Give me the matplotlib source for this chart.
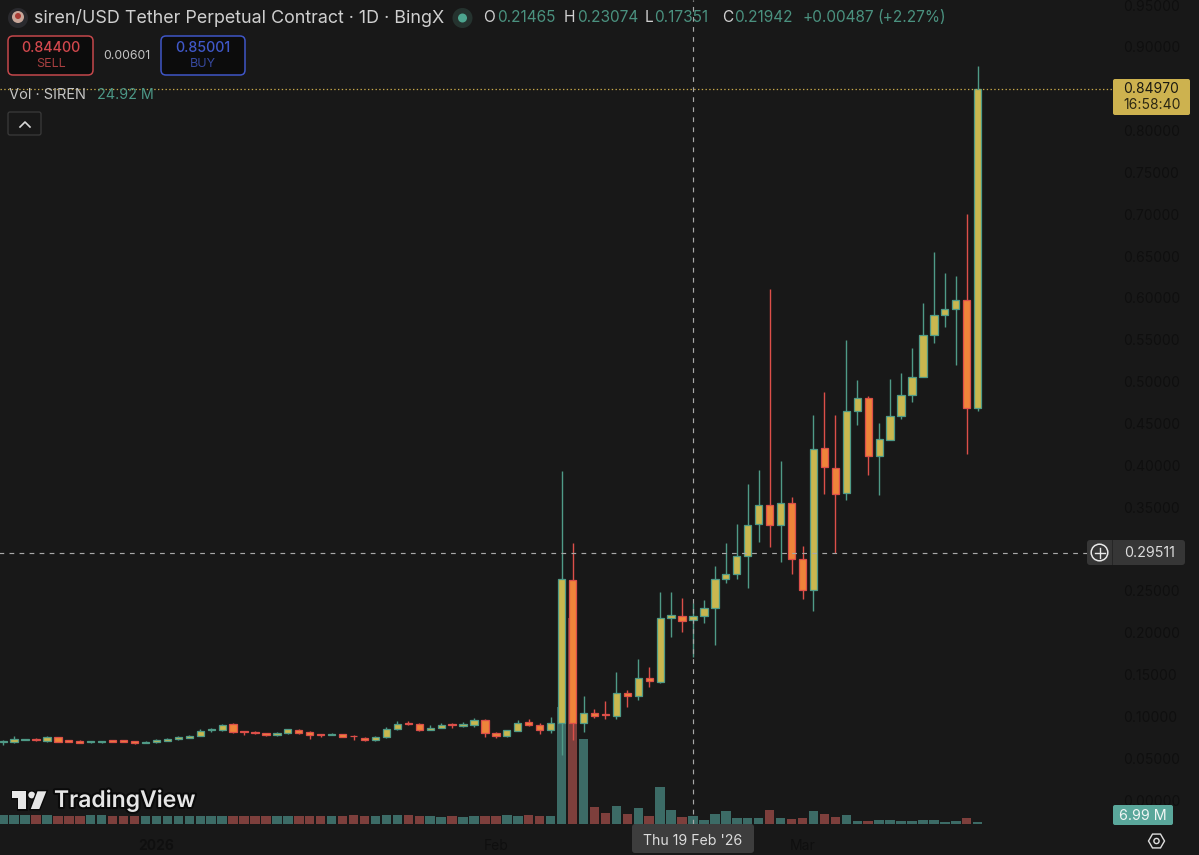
import matplotlib
matplotlib.use('Agg')
import matplotlib.pyplot as plt
import matplotlib.patheffects as pe
from matplotlib.patches import FancyBboxPatch, Rectangle, Circle, Polygon
import numpy as np

W, H = 1199, 855
BG = '#181818'

# daily candles, 0 = first visible day, 63 = Thu 19 Feb
opens = [.0693, .0689, .0721, .0733, .0705, .0749, .0713, .0705, .0689, .0689,
         .0713, .0713, .0701, .0685, .0689, .0709, .0729, .0745, .0769, .0833,
         .0837, .0904, .0821, .0817, .0801, .0777, .0797, .0840, .0817, .0789,
         .0781, .0785, .0769, .0745, .0717, .0749, .0844, .0920, .0912, .0840,
         .0864, .0908, .0884, .0900, .0960, .0801, .0769, .0829, .0928, .0896,
         .0837, .0916, .2629, .0924, .1036, .1024, .1004, .1275, .1243, .1454,
         .1414, .2175, .2203, .2147, .2195, .2291, .2641, .2701, .2920, .3294,
         .3525, .3286, .3545, .2884, .2510, .4203, .3971, .3673, .4649, .4804,
         .4111, .4302, .4593, .4840, .5059, .5561, .5792, .5868, .5979, .4685]
highs = [.0717, .0765, .0733, .0737, .0769, .0753, .0717, .0713, .0705, .0709,
         .0717, .0717, .0709, .0705, .0725, .0741, .0765, .0777, .0844, .0860,
         .0908, .0916, .0829, .0821, .0805, .0809, .0852, .0848, .0821, .0793,
         .0797, .0789, .0773, .0753, .0765, .0876, .0940, .0944, .0916, .0892,
         .0920, .0920, .0936, .0984, .0968, .0813, .0840, .0956, .0972, .0920,
         .0988, .3936, .3075, .1243, .1091, .1187, .1526, .1315, .1689, .1593,
         .2490, .2490, .2410, .2350, .2390, .2800, .3067, .3298, .3776, .3944,
         .6103, .4055, .3625, .3035, .4601, .4876, .4601, .5497, .5019, .4828,
         .4509, .5035, .5107, .5405, .5943, .6545, .6302, .6266, .7003, .8772]
lows = [.0657, .0677, .0717, .0705, .0697, .0689, .0689, .0677, .0681, .0681,
        .0689, .0689, .0669, .0677, .0681, .0701, .0717, .0737, .0761, .0809,
        .0829, .0805, .0781, .0793, .0769, .0769, .0789, .0789, .0733, .0749,
        .0777, .0749, .0713, .0705, .0709, .0741, .0833, .0896, .0829, .0833,
        .0856, .0864, .0876, .0876, .0749, .0745, .0753, .0821, .0888, .0793,
        .0797, .0538, .0717, .0809, .0976, .0964, .0972, .1107, .1195, .1354,
        .1402, .1952, .2004, .1713, .2119, .1848, .2589, .2637, .2537, .3087,
        .3027, .2848, .2701, .2406, .2259, .3657, .2951, .3585, .4477, .3880,
        .3645, .4302, .4549, .4760, .5059, .5457, .5653, .5202, .4135, .4653]
closes = [.0705, .0729, .0729, .0717, .0749, .0697, .0697, .0685, .0701, .0705,
          .0697, .0697, .0677, .0697, .0713, .0733, .0753, .0765, .0821, .0844,
          .0900, .0813, .0809, .0805, .0777, .0801, .0844, .0801, .0777, .0777,
          .0793, .0757, .0761, .0713, .0753, .0844, .0912, .0908, .0837, .0864,
          .0900, .0896, .0908, .0960, .0797, .0769, .0833, .0924, .0892, .0837,
          .0916, .2637, .0924, .1036, .1004, .1012, .1275, .1243, .1454, .1418,
          .2175, .2211, .2143, .2195, .2291, .2641, .2705, .2920, .3286, .3525,
          .3286, .3545, .2884, .2510, .4198, .3975, .3661, .4653, .4800, .4111,
          .4310, .4593, .4844, .5059, .5561, .5792, .5864, .5979, .4685, .8497]
# volume in millions
volumes = [27, 27, 27, 27, 27, 26, 26, 26, 27, 27,
           26, 26, 26, 26, 26, 26, 26, 26, 26, 26,
           26, 26, 26, 26, 26, 26, 26, 26, 25, 25,
           25, 25, 27, 26, 26, 27, 27, 27, 24, 25,
           23, 24, 23, 24, 24, 25, 27, 25, 28, 25,
           25, 363, 639, 264, 52, 33, 57, 30, 51, 24,
           114, 43, 23, 24.92, 13, 32, 39, 20, 20, 20,
           43, 18, 15, 18, 41, 32, 22, 27, 10, 10,
           11, 11, 9, 9, 11, 11, 7, 9, 18, 6.99]

price_ticks = [.95, .90, .85, .80, .75, .70, .65, .60, .55, .50,
               .45, .40, .35, .30, .25, .20, .15, .10, .05, .00]
date_ticks = [14, 45, 73]
date_labels = ['2026', 'Feb', 'Mar']
cross_day = 63
cross_price = 0.29511
last_price = 0.8497

UP_BODY, UP_EDGE = '#c9b74f', '#4f9a87'
DN_BODY, DN_EDGE = '#ee843a', '#dc4f49'
VOL_UP, VOL_DN = '#3c6b66', '#7d3f3c'
FONT = 'Inter'

plt.rcParams['font.family'] = [FONT, 'DejaVu Sans']
fig = plt.figure(figsize=(W / 100, H / 100), dpi=100, facecolor=BG)

# price pane: one day = 10.95 px, 0.05 = 41.84 px
ax_w = 1112
ax_bottom = 824
ax = fig.add_axes([0, 1 - ax_bottom / H, ax_w / W, ax_bottom / H], facecolor=BG)
ax.set_xlim(-3.15 / 10.95, (ax_w - 3.15) / 10.95)
ax.set_ylim(-24 / 836.8, 800 / 836.8)
for s in ax.spines.values():
    s.set_visible(False)

days = np.arange(len(opens))
o, h, l, c = map(np.array, (opens, highs, lows, closes))
up = c >= o

# volume sits on the same pane, own scale
vax = ax.twinx()
vax.set_ylim(0, 824 * 3.1)
vax.axis('off')
vax.bar(days, volumes, width=0.86, color=[VOL_UP if u else VOL_DN for u in up], zorder=1)
ax.set_zorder(vax.get_zorder() + 1)
ax.patch.set_visible(False)
vax.patch.set_visible(False)

# twinx moves the ticks back to the left, so this comes after it
ax.yaxis.tick_right()
ax.set_yticks(price_ticks)
ax.set_yticklabels(['%.5f' % p for p in price_ticks], color='#0f0f0f', fontsize=10)
ax.set_xticks(date_ticks)
ax.set_xticklabels(date_labels, color='#0f0f0f', fontsize=10)
ax.get_xticklabels()[0].set_fontweight('bold')
ax.tick_params(axis='y', length=0, pad=8)
ax.tick_params(axis='x', length=0, pad=11)

ax.vlines(days, l, h, colors=[UP_EDGE if u else DN_EDGE for u in up], lw=1.0, zorder=3)
ax.bar(days, np.abs(c - o), bottom=np.minimum(o, c), width=0.66,
       color=[UP_BODY if u else DN_BODY for u in up],
       edgecolor=[UP_EDGE if u else DN_EDGE for u in up], linewidth=0.9, zorder=4)

ax.axhline(last_price, color='#c9a94a', lw=0.9, ls=(0, (1.1, 1.9)), zorder=5)
ax.axvline(cross_day, color='#a8a8a8', lw=0.85, ls=(0, (4, 4.5)), zorder=5)
ax.plot([-1, (1087 - 3.15) / 10.95], [cross_price, cross_price], color='#a8a8a8', lw=0.85,
        ls=(0, (4, 4.5)), zorder=5)

# interface furniture in pixel coordinates, above the pane
ui = fig.add_axes([0, 0, 1, 1], facecolor='none')
ui.set_zorder(10)
ui.set_xlim(0, W)
ui.set_ylim(H, 0)
ui.axis('off')


def box(x0, y0, x1, y1, fc, ec='none', r=3, lw=1.0):
    ui.add_patch(FancyBboxPatch((x0 + r, y0 + r), x1 - x0 - 2 * r, y1 - y0 - 2 * r,
                                boxstyle='round,pad=%g,rounding_size=%g' % (r, r),
                                fc=fc, ec=ec, lw=lw))


def txt(x, y, s, color, size=10, ha='left', **kw):
    return ui.text(x, y, s, color=color, fontsize=size, ha=ha, va='center', **kw)


# header
ui.add_patch(Circle((18, 18), 10, fc='#2a2a2e', ec='none'))
ui.add_patch(Circle((18, 17), 6, fc='#c9a79a', ec='none'))
ui.add_patch(Circle((18, 16), 3, fc='#a83b34', ec='none'))
txt(34, 18, 'siren/USD Tether Perpetual Contract · 1D · BingX', '#cfcfcf', 12.9)
ui.add_patch(Circle((462.5, 18), 10, fc='#25332f', ec='none'))
ui.add_patch(Circle((462.5, 18), 4.5, fc='#4da58f', ec='none'))
GREEN = '#4a917f'
for x, s, col in [(483, 'O', '#d0d0d0'), (497, '0.21465', GREEN),
                  (564, 'H', '#d0d0d0'), (577, '0.23074', GREEN),
                  (645, 'L', '#d0d0d0'), (654, '0.17351', GREEN),
                  (722, 'C', '#d0d0d0'), (734, '0.21942', GREEN),
                  (802, '+0.00487', GREEN), (877, '(+2.27%)', GREEN)]:
    txt(x, 18, s, col, 11.1)

# sell / buy
box(8, 36, 93, 75, '#0c0c0c', '#c4474b', r=5, lw=1.1)
txt(51, 48, '0.84400', '#d2484d', 10.3, ha='center', fontweight='medium')
txt(51, 64, 'SELL', '#a83f40', 9, ha='center')
txt(127, 56, '0.00601', '#c4c4c4', 8.8, ha='center')
box(161, 36, 245, 75, '#0c0c0c', '#3f56c6', r=5, lw=1.1)
txt(203, 48, '0.85001', '#4058c8', 10.3, ha='center', fontweight='medium')
txt(203, 64, 'BUY', '#37499f', 9, ha='center')

txt(9, 95, 'Vol · SIREN', '#c4c4c4', 10.5)
txt(97, 95, '24.92 M', '#4b9686', 10.3)
box(8, 112, 41, 135, BG, '#3a3a3a', r=2, lw=0.9)
ui.plot([20, 25, 30], [127, 122, 127], color='#d8d8d8', lw=1.2)

# price scale labels
box(1113, 79, 1190, 115, '#cdb24f', r=2)
txt(1151, 89, '0.84970', '#1b1a12', 10, ha='center')
txt(1152, 105, '16:58:40', '#2b2713', 10, ha='center')
box(1087, 540, 1185, 565, '#363636', r=3)
ui.add_patch(Rectangle((1112, 540), 1, 25, fc='#262626', ec='none'))
ui.add_patch(Circle((1099.5, 552.5), 8.3, fc='none', ec='#e8e8e8', lw=1.1))
ui.plot([1094.5, 1104.5], [552.5, 552.5], color='#e8e8e8', lw=1.0)
ui.plot([1099.5, 1099.5], [547.5, 557.5], color='#e8e8e8', lw=1.0)
txt(1150, 552.5, '0.29511', '#dcdcdc', 10.3, ha='center')
box(1113, 805, 1173, 825, '#5aa79b', r=2)
txt(1143, 815.5, '6.99 M', '#f0f6f5', 10.3, ha='center')

a = np.deg2rad(np.arange(0, 360, 60))
ui.add_patch(Polygon(np.c_[1156.5 + 8 * np.cos(a), 841 + 8 * np.sin(a)], closed=True,
                     fc='none', ec='#dedede', lw=1.0))
ui.add_patch(Circle((1156.5, 841), 2.6, fc='none', ec='#dedede', lw=1.0))

# crosshair date
box(632, 824, 754, 853, '#3d3d3d', r=3)
txt(693, 841, "Thu 19 Feb '26", '#dcdcdc', 10.2, ha='center')

# watermark
halo = [pe.withStroke(linewidth=3, foreground='#0a0a0a')]
logo = '#e6e6e6'
for patch in [Polygon([(11.7, 791), (26, 791), (26, 809), (18.3, 809), (18.3, 798.3), (11.7, 798.3)], fc=logo, ec='none'),
              Circle((31.7, 795), 3.4, fc=logo, ec='none'),
              Polygon([(37.5, 791.3), (46.3, 791.3), (39.3, 809), (30.8, 809)], fc=logo, ec='none')]:
    ui.add_patch(patch)
    patch.set_path_effects([pe.withStroke(linewidth=2, foreground='#0a0a0a')])
txt(54, 800.5, 'TradingView', logo, 16.5, fontweight='semibold', path_effects=halo)

fig.savefig('out.png', dpi=100, facecolor=BG)
